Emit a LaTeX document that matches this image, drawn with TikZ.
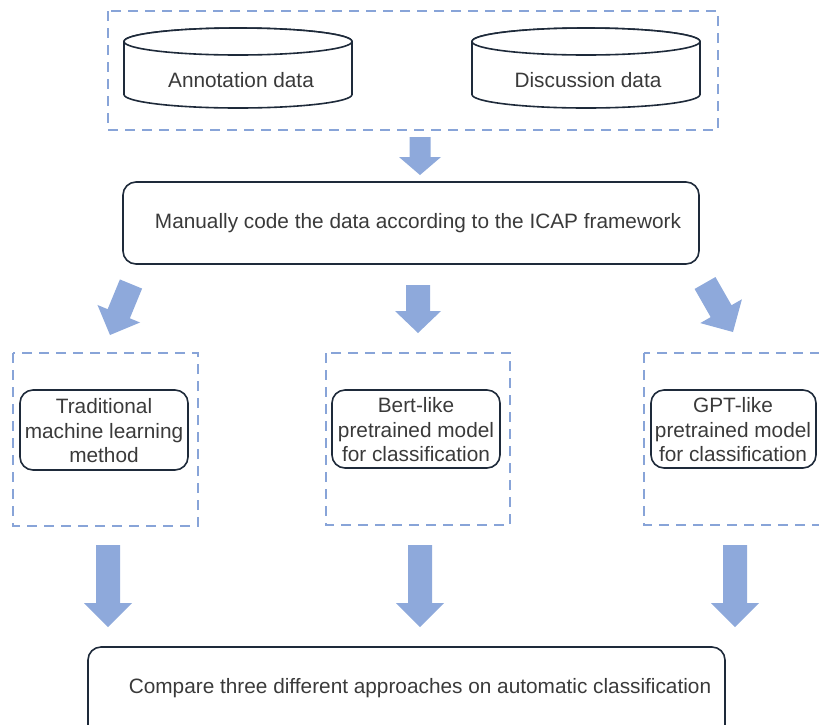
\documentclass[tikz,border=0pt]{standalone}
\usepackage{fontspec}
\setmainfont{Liberation Sans}
\usetikzlibrary{calc}
\definecolor{dashblue}{HTML}{88A4D8}
\definecolor{arrblue}{HTML}{8EA9DB}
\definecolor{boxline}{HTML}{1E2A3A}
\definecolor{txt}{HTML}{3A3A3A}
\tikzset{
  dashbox/.style={draw=dashblue, line width=2.8pt, dash pattern=on 10pt off 7pt},
  roundbox/.style={draw=boxline, line width=1.6pt, rounded corners=13pt},
  cyl/.style={draw=boxline, line width=1.6pt, fill=white},
  lbl/.style={text=txt, font=\fontsize{20.8}{24.5}\selectfont, align=center, inner sep=0pt},
  arrowfill/.style={fill=arrblue}
}
% #1 tail, #2 tip, #3 shaft half width, #4 head half width, #5 head length
\newcommand\blockarr[5]{%
  \coordinate (hb) at ($(#2)!#5!(#1)$);
  \fill[arrowfill] ($(#1)!#3!90:(#2)$) -- ($(hb)!#3!90:(#2)$) -- ($(hb)!#4!90:(#2)$)
    -- (#2) -- ($(hb)!#4!-90:(#2)$) -- ($(hb)!#3!-90:(#2)$) -- ($(#1)!#3!-90:(#2)$) -- cycle;
}
% cylinder: #1 left x, #2 right x, #3 top y, #4 bottom y, #5 ry
\newcommand\cylshape[5]{%
  \pgfmathsetmacro\cx{(#1+#2)/2}\pgfmathsetmacro\rx{(#2-#1)/2}
  \pgfmathsetmacro\ty{#3+#5}\pgfmathsetmacro\by{#4-#5}
  \draw[cyl] (#1,\ty) -- (#1,\by) arc[start angle=180, end angle=360, x radius=\rx, y radius=-#5]
    -- (#2,\ty) arc[start angle=0, end angle=180, x radius=\rx, y radius=-#5] -- cycle;
  \draw[cyl] (\cx,\ty) ellipse[x radius=\rx, y radius=#5];
}
\begin{document}
\begin{tikzpicture}[x=1pt, y=-1pt]
\useasboundingbox (0,0) rectangle (819,724);
\begin{scope}
\clip (0,0) rectangle (819,724);
% top group
\draw[dashbox] (108,11) rectangle (718,130);
\cylshape{124}{352}{28}{108}{13.5}
\cylshape{472}{700}{28}{108}{13.5}
\node[lbl] (ann) at (241,80) {Annotation data};
\node[lbl] (dis) at (588,80) {Discussion data};
% main box
\draw[roundbox] (123,182) rectangle (699,264);
\node[lbl] (code) at (418,223) {Manually code the data according to the ICAP framework};
% dashed boxes
\draw[dashbox] (13,353) rectangle (198,526);
\draw[dashbox] (326,353) rectangle (510,525);
\draw[dashbox] (644,353) rectangle (832,525);
% inner boxes
\draw[roundbox] (20,390) rectangle (188,470);
\draw[roundbox] (332,390) rectangle (500,468);
\draw[roundbox] (651,390) rectangle (816,468);
\node[lbl] (trad) at (104,431) {Traditional\\machine learning\\method};
\node[lbl] (bert) at (416,430) {Bert-like\\pretrained model\\for classification};
\node[lbl] (gpt) at (733,430) {GPT-like\\pretrained model\\for classification};
% bottom box
\draw[roundbox] (88,647) rectangle (725,740);
\node[lbl] (cmp) at (420,688) {Compare three different approaches on automatic classification};
% arrows
\coordinate (t1) at (420,137); \coordinate (h1) at (420,175);
\coordinate (t2) at (131,284); \coordinate (h2) at (110,335);
\coordinate (t3) at (418,285); \coordinate (h3) at (418,333);
\coordinate (t4) at (705,283); \coordinate (h4) at (733,332);
\coordinate (t5) at (108,545); \coordinate (h5) at (108,627);
\coordinate (t6) at (420,545); \coordinate (h6) at (420,627);
\coordinate (t7) at (735,545); \coordinate (h7) at (735,627);
\blockarr{t1}{h1}{10.5pt}{21pt}{18pt}
\blockarr{t2}{h2}{12pt}{23pt}{23pt}
\blockarr{t3}{h3}{12pt}{23pt}{22pt}
\blockarr{t4}{h4}{12pt}{24pt}{24pt}
\blockarr{t5}{h5}{12pt}{24pt}{24pt}
\blockarr{t6}{h6}{12pt}{24pt}{24pt}
\blockarr{t7}{h7}{12pt}{24pt}{24pt}
\end{scope}
\end{tikzpicture}
\end{document}
